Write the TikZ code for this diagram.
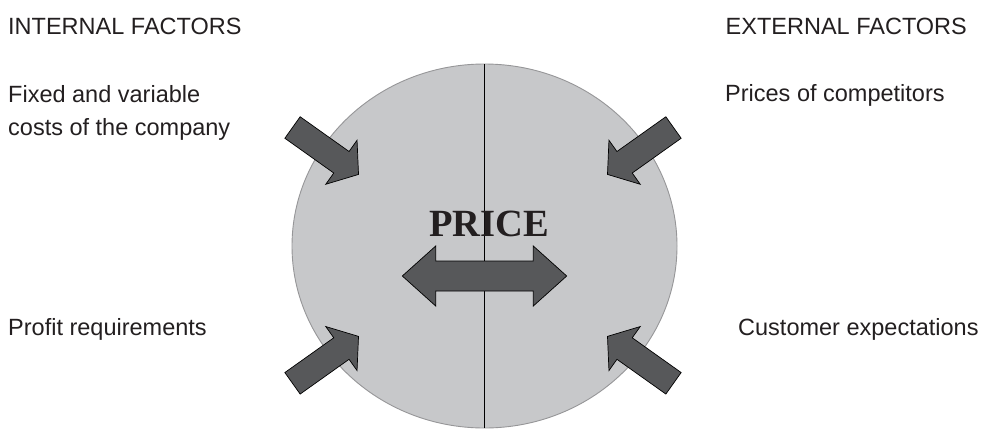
\documentclass[tikz,border=0pt]{standalone}
\usepackage{fontspec}
\setmainfont{Liberation Sans}
\newfontfamily\pricefont{Liberation Serif}
\usetikzlibrary{shapes.geometric}
\definecolor{DiscGray}{RGB}{199,200,202}
\definecolor{RimGray}{RGB}{150,150,152}
\definecolor{ArrowGray}{RGB}{87,88,90}
\definecolor{TextGray}{RGB}{35,31,32}
\tikzset{
  factortext/.style={anchor=base west, inner sep=0pt, text=TextGray,
                     font=\fontsize{23.5}{28}\selectfont},
  disc/.style={ellipse, draw=RimGray, fill=DiscGray, line width=0.9pt,
               inner sep=0pt, outer sep=0pt},
  blockarr/.style={fill=ArrowGray, draw=black, line width=0.7pt, line join=miter}
}

\begin{document}
\begin{tikzpicture}[x=1pt,y=-1pt]
\useasboundingbox (0,0) rectangle (984,429);
% price disc split in two halves
\node[disc, minimum width=385pt, minimum height=364pt] (disc) at (484.5,246) {};
\draw[black, line width=1.1pt] (disc.north) -- (disc.south);
\node[anchor=base, inner sep=0pt, text=TextGray,
      font=\pricefont\bfseries\fontsize{38.5}{40}\selectfont] (price) at (489,236.7) {PRICE};
% factors
\node[factortext] (internal) at (8,34) {INTERNAL FACTORS};
\node[factortext] (fixed) at (8,102) {Fixed and variable};
\node[factortext] (costs) at (8,135) {costs of the company};
\node[factortext] (profit) at (8,335) {Profit requirements};
\node[factortext] (external) at (725.5,34) {EXTERNAL FACTORS};
\node[factortext] (rivals) at (725,101) {Prices of competitors};
\node[factortext] (expect) at (738,335) {Customer expectations};
% arrows pushing on the price
\foreach \px/\py/\ang in {292.5/127.5/-35.4, 673.5/127.5/215.4,
                          292.5/383.3/35.4, 673.5/383.3/144.6}
  \draw[blockarr, shift={(\px,\py)}, rotate=\ang]
    (0,13.2) -- (60,13.2) -- (60,27) -- (81,0) -- (60,-27) -- (60,-13.2) -- (0,-13.2) -- cycle;
\draw[blockarr] (402.3,276) -- (435.7,246) -- (435.7,261) -- (533.3,261) -- (533.3,246)
  -- (566.7,276) -- (533.3,306) -- (533.3,291) -- (435.7,291) -- (435.7,306) -- cycle;
\end{tikzpicture}
\end{document}
